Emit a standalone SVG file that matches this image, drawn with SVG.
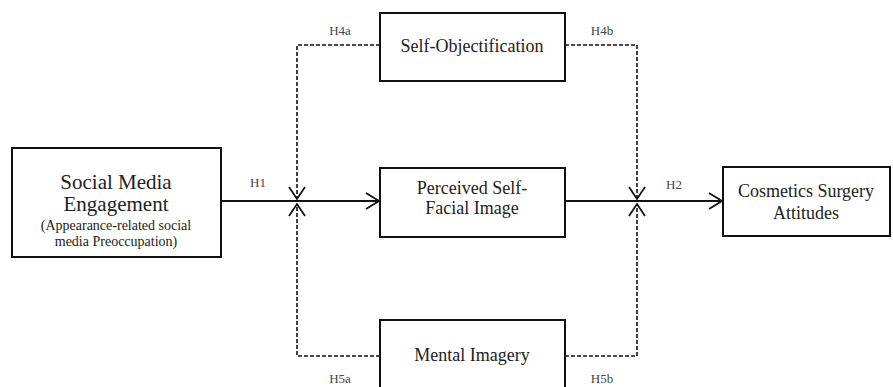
<svg xmlns="http://www.w3.org/2000/svg" width="893" height="387" viewBox="0 0 893 387">
<style>
.box{fill:#fff;stroke:#111;stroke-width:2}
text{font-family:'Liberation Serif','Times New Roman','DejaVu Serif',serif}
.t{fill:#222;text-anchor:middle}
.big{font-size:21px}
.med{font-size:18px}
.sm{font-size:14px}
.lab{font-size:13px;fill:#444;text-anchor:middle}
.solid{fill:none;stroke:#111;stroke-width:2}
.dash{fill:none;stroke:#111;stroke-width:1.6;stroke-dasharray:4,2}
.head{fill:none;stroke:#111;stroke-width:1.8}
</style>
<rect width="893" height="387" fill="#fff"/>
<g id="connectors">
<line class="solid" x1="221" y1="201" x2="379" y2="201"/>
<polyline class="head" points="366,193 379,201 366,209"/>
<line class="solid" x1="565" y1="201" x2="722" y2="201"/>
<polyline class="head" points="709,193 722,201 709,209"/>
<polyline class="dash" points="380,45 297,45 297,199"/>
<polyline class="head" points="289,187 297,199 305,187"/>
<polyline class="dash" points="380,356 297,356 297,204"/>
<polyline class="head" points="289,216 297,204 305,216"/>
<polyline class="dash" points="565,45 637,45 637,199"/>
<polyline class="head" points="629,187 637,199 645,187"/>
<polyline class="dash" points="565,356 637,356 637,204"/>
<polyline class="head" points="629,216 637,204 645,216"/>
<text class="lab" x="258" y="187">H1</text>
<text class="lab" x="674" y="189">H2</text>
<text class="lab" x="340" y="35">H4a</text>
<text class="lab" x="602" y="35">H4b</text>
<text class="lab" x="340" y="383">H5a</text>
<text class="lab" x="602" y="383">H5b</text>
</g>
<g id="social-media">
<rect class="box" x="12" y="148" width="209" height="109"/>
<text class="t big" x="116" y="189">Social Media</text>
<text class="t big" x="116" y="211">Engagement</text>
<text class="t sm" x="116" y="230">(Appearance-related social</text>
<text class="t sm" x="116" y="246">media Preoccupation)</text>
</g>
<g id="self-objectification">
<rect class="box" x="380" y="13" width="185" height="68"/>
<text class="t med" x="472" y="52">Self-Objectification</text>
</g>
<g id="perceived">
<rect class="box" x="380" y="168" width="185" height="69"/>
<text class="t med" x="472" y="194">Perceived Self-</text>
<text class="t med" x="472" y="214">Facial Image</text>
</g>
<g id="mental-imagery">
<rect class="box" x="380" y="320" width="185" height="70"/>
<text class="t med" x="472" y="361">Mental Imagery</text>
</g>
<g id="cosmetics">
<rect class="box" x="723" y="167" width="167" height="69"/>
<text class="t med" x="806" y="197">Cosmetics Surgery</text>
<text class="t med" x="806" y="219">Attitudes</text>
</g>
</svg>
